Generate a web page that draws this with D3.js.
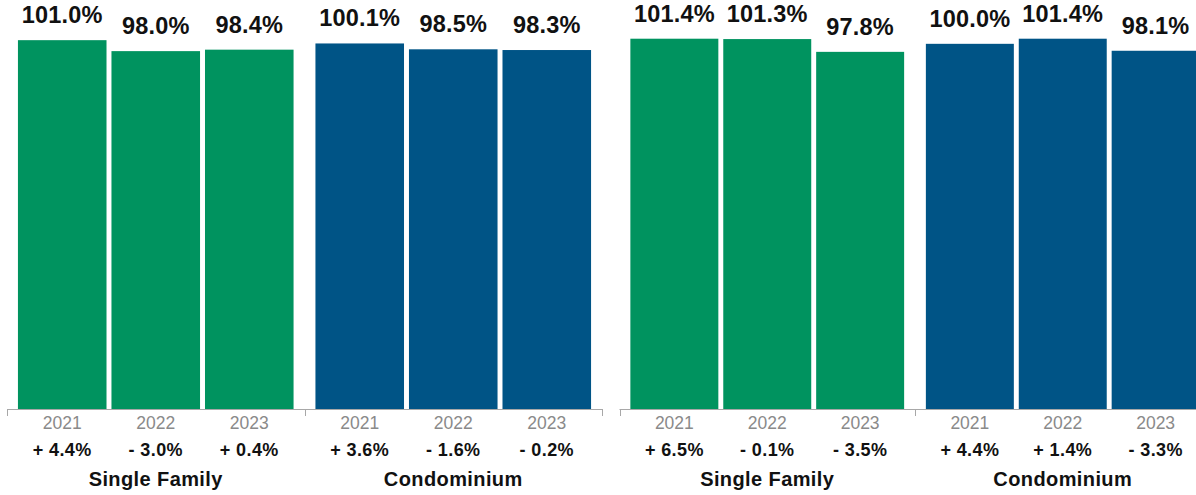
<!DOCTYPE html>
<html>
<head>
<meta charset="utf-8">
<script src="https://cdn.jsdelivr.net/npm/d3@7"></script>
<style>
  html, body { margin: 0; padding: 0; background: #fff; }
  svg { display: block; font-family: "Liberation Sans", Arial, Helvetica, sans-serif; }
</style>
</head>
<body>
<svg id="chart" width="1196" height="495"></svg>
<script>
// Categories
const years = ["2021", "2022", "2023"];
const propertyTypes = ["Single Family", "Condominium"];

// Left panel: ratio values and year-over-year change
const leftSingleFamily = [101.0, 98.0, 98.4];
const leftCondominium  = [100.1, 98.5, 98.3];
const leftSingleFamilyChange = [4.4, -3.0, 0.4];
const leftCondominiumChange  = [3.6, -1.6, -0.2];

// Right panel: ratio values and year-over-year change
const rightSingleFamily = [101.4, 101.3, 97.8];
const rightCondominium  = [100.0, 101.4, 98.1];
const rightSingleFamilyChange = [6.5, -0.1, -3.5];
const rightCondominiumChange  = [4.4, 1.4, -3.3];

const colors = { "Single Family": "#00935f", "Condominium": "#005486" };

const panels = [
  { x0: 7, x1: 602, values: [leftSingleFamily, leftCondominium], changes: [leftSingleFamilyChange, leftCondominiumChange] },
  { x0: 619.5, x1: 1210.5, values: [rightSingleFamily, rightCondominium], changes: [rightSingleFamilyChange, rightCondominiumChange] }
];

const svg = d3.select("#chart");
const baseY = 409;
const y = d3.scaleLinear().domain([0, 112]).range([baseY, 0]);

const fmtValue = v => v.toFixed(1) + "%";
const fmtChange = v => (v >= 0 ? "+ " : "- ") + Math.abs(v).toFixed(1) + "%";

panels.forEach(p => {
  const g = svg.append("g");
  const groupScale = d3.scaleBand().domain(propertyTypes).range([p.x0, p.x1]).paddingInner(0).paddingOuter(0);
  const yearScale = d3.scaleBand().domain(years).range([0, groupScale.bandwidth()])
    .paddingInner(0.053).paddingOuter(0.117);

  propertyTypes.forEach((type, ti) => {
    const gx = groupScale(type);
    const rows = years.map((yr, i) => ({ year: yr, value: p.values[ti][i], change: p.changes[ti][i] }));
    const grp = g.append("g").attr("transform", `translate(${gx},0)`);

    grp.selectAll("rect").data(rows).join("rect")
      .attr("x", d => yearScale(d.year))
      .attr("y", d => y(d.value))
      .attr("width", yearScale.bandwidth())
      .attr("height", d => baseY - y(d.value))
      .attr("fill", colors[type]);

    grp.selectAll("text.val").data(rows).join("text")
      .attr("class", "val")
      .attr("x", d => yearScale(d.year) + yearScale.bandwidth() / 2)
      .attr("y", d => y(d.value) - 17)
      .attr("text-anchor", "middle")
      .attr("font-size", 23.5)
      .attr("font-weight", "bold")
      .attr("letter-spacing", 0.2)
      .attr("fill", "#111")
      .text(d => fmtValue(d.value));

    grp.selectAll("text.year").data(rows).join("text")
      .attr("class", "year")
      .attr("x", d => yearScale(d.year) + yearScale.bandwidth() / 2)
      .attr("y", 429)
      .attr("text-anchor", "middle")
      .attr("font-size", 17.5)
      .attr("fill", "#8a8a8a")
      .text(d => d.year);

    grp.selectAll("text.chg").data(rows).join("text")
      .attr("class", "chg")
      .attr("x", d => yearScale(d.year) + yearScale.bandwidth() / 2)
      .attr("y", 456)
      .attr("text-anchor", "middle")
      .attr("font-size", 18)
      .attr("font-weight", "bold")
      .attr("letter-spacing", 0.4)
      .attr("fill", "#111")
      .text(d => fmtChange(d.change));

    grp.append("text")
      .attr("x", groupScale.bandwidth() / 2)
      .attr("y", 486)
      .attr("text-anchor", "middle")
      .attr("font-size", 20)
      .attr("font-weight", "bold")
      .attr("letter-spacing", 0.4)
      .attr("fill", "#111")
      .text(type);
  });

  // Baseline with boundary ticks between property types
  g.append("line")
    .attr("x1", p.x0).attr("x2", p.x1)
    .attr("y1", baseY + 0.5).attr("y2", baseY + 0.5)
    .attr("stroke", "#a8a8a8").attr("stroke-width", 1);
  const bounds = propertyTypes.map(t => groupScale(t)).concat([p.x1]);
  g.selectAll("line.tick").data(bounds).join("line")
    .attr("class", "tick")
    .attr("x1", d => Math.round(d) + 0.5).attr("x2", d => Math.round(d) + 0.5)
    .attr("y1", baseY).attr("y2", baseY + 7)
    .attr("stroke", "#a8a8a8").attr("stroke-width", 1);
});
</script>
</body>
</html>
